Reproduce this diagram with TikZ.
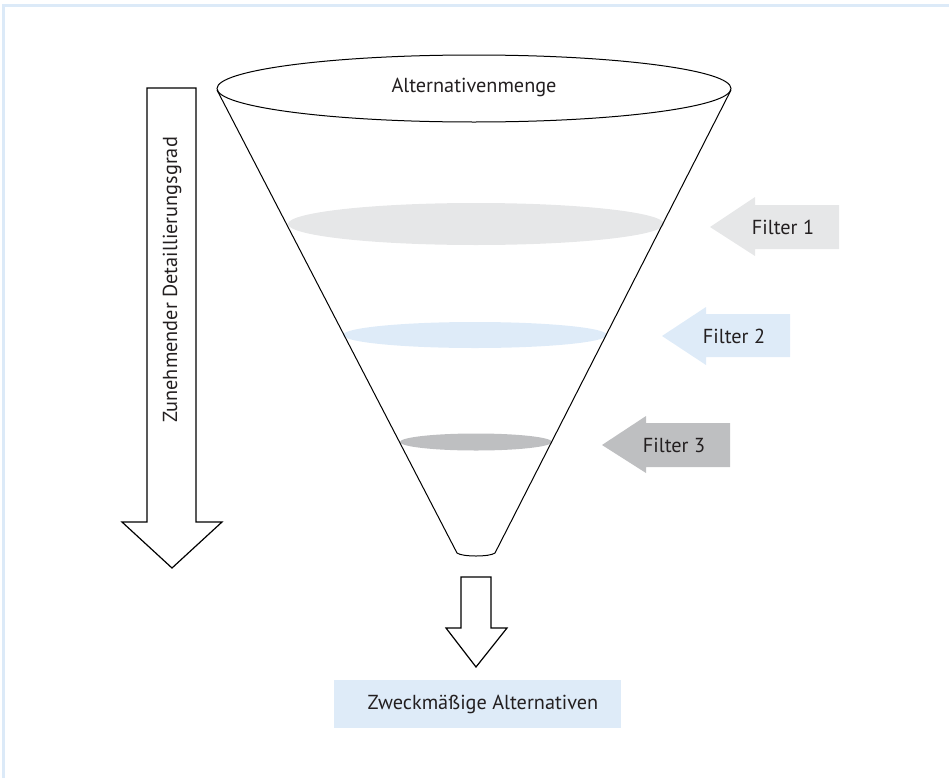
\documentclass[tikz,border=0pt]{standalone}
\usepackage{fontspec}
\setmainfont{PT Sans}
\usepackage{tikz}

\begin{document}
\begin{tikzpicture}[x=0.75pt,y=0.75pt,yscale=-1,xscale=1,
  every node/.style={font=\fontsize{15.2}{18}\selectfont, color={rgb, 255:red, 35; green, 31; blue, 32 }}]
\useasboundingbox (0,0) rectangle (949,778);
%Frame
\draw [color={rgb, 255:red, 220; green, 234; blue, 248 }, line width=2.25] (3.5,778) -- (3.5,5) -- (949,5) ;

%Shape: Ellipse [filter 1]
\fill [color={rgb, 255:red, 230; green, 231; blue, 232 }] (476,224) ellipse (188 and 21) ;
%Shape: Ellipse [filter 2]
\fill [color={rgb, 255:red, 222; green, 235; blue, 248 }] (475,335) ellipse (132 and 13) ;
%Shape: Ellipse [filter 3]
\fill [color={rgb, 255:red, 190; green, 191; blue, 193 }] (476,442) ellipse (76 and 8.5) ;

%Funnel
\draw [line width=0.75] (474,88.5) ellipse (257 and 33.5) ;
\draw [line width=0.75] (217,90) -- (457,553) .. controls (462,557) and (490,557) .. (495,553) -- (731,90) ;
\node (setLabel) at (474,87) {Alternativenmenge};

%Shape: Arrow [filter 1]
\fill [color={rgb, 255:red, 230; green, 231; blue, 232 }] (710,227) -- (755,197) -- (755,205) -- (839,205) -- (839,249) -- (755,249) -- (755,256) -- cycle ;
\node (filterA) at (783,227) {Filter 1};
%Shape: Arrow [filter 2]
\fill [color={rgb, 255:red, 222; green, 235; blue, 248 }] (662,336) -- (706,307) -- (706,314) -- (790,314) -- (790,357) -- (706,357) -- (706,365) -- cycle ;
\node (filterB) at (734,336) {Filter 2};
%Shape: Arrow [filter 3]
\fill [color={rgb, 255:red, 190; green, 191; blue, 193 }] (602,445) -- (646,416) -- (646,423) -- (730,423) -- (730,467) -- (646,467) -- (646,473) -- cycle ;
\node (filterC) at (674,445) {Filter 3};

%Shape: Down Arrow [detail]
\draw [line width=0.9] (147,88) -- (196,88) -- (196,522) -- (222,522) -- (172,568) -- (122,522) -- (147,522) -- cycle ;
\node [rotate=90] (detailLabel) at (172,280) {Zunehmender Detaillierungsgrad};

%Shape: Down Arrow [output]
\draw [line width=0.9] (461,577) -- (491,577) -- (491,628) -- (507,628) -- (476,667) -- (446,628) -- (461,628) -- cycle ;

%Shape: Rectangle [result]
\fill [color={rgb, 255:red, 222; green, 235; blue, 248 }] (334,680) rectangle (621,728) ;
\node (resultLabel) at (483,704) {Zweckmäßige Alternativen};
\end{tikzpicture}
\end{document}
